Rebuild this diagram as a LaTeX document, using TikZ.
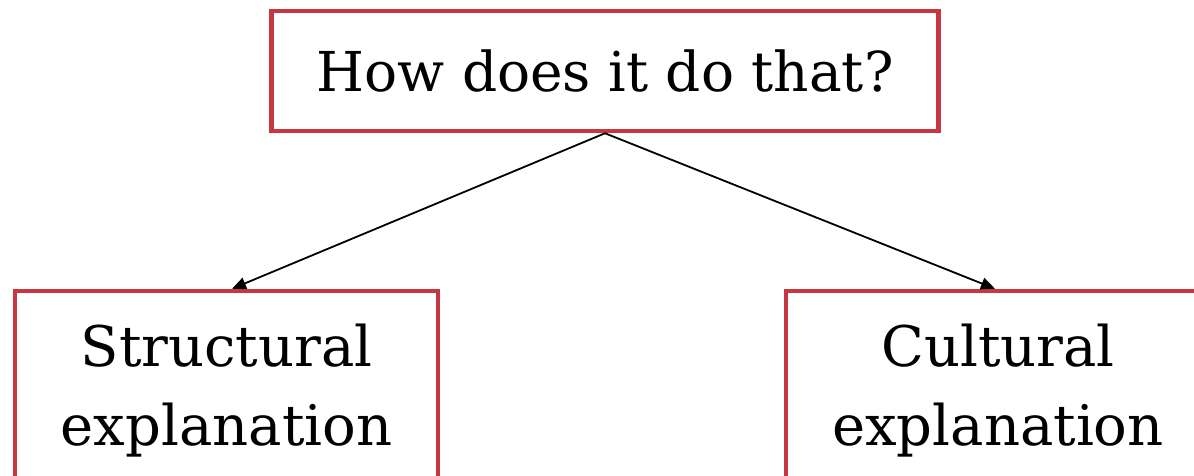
\documentclass[tikz,border=0pt]{standalone}
\usepackage{fontspec}
\setmainfont{DejaVu Serif}
\usetikzlibrary{arrows.meta}
\definecolor{boxred}{RGB}{200,55,65}
\tikzset{
  qbox/.style={draw=boxred, line width=4.5pt, fill=white, inner sep=0pt, align=center},
  link/.style={draw=black, line width=1.8pt, -{Triangle[length=14pt,width=12pt]}}
}
\begin{document}
\begin{tikzpicture}[x=1pt,y=-1pt]
  \useasboundingbox (0,0) rectangle (1194,475);
  \clip (0,0) rectangle (1194,475);
  % question box
  \node[qbox, minimum width=667pt, minimum height=120pt, font=\fontsize{55}{63}\selectfont]
    (q) at (605,71) {How does it do that?};
  % answer boxes, running off the bottom edge
  \node[qbox, minimum width=423pt, minimum height=200pt, font=\fontsize{56}{79}\selectfont]
    (s) at (226.5,391) {Structural\\explanation};
  \node[qbox, minimum width=424pt, minimum height=200pt, font=\fontsize{56}{79}\selectfont]
    (c) at (998,391) {Cultural\\explanation};
  % connectors
  \draw[link] (q.south) -- ([xshift=5.5pt]s.north);
  \draw[link] (q.south) -- ([xshift=-3pt]c.north);
\end{tikzpicture}
\end{document}
